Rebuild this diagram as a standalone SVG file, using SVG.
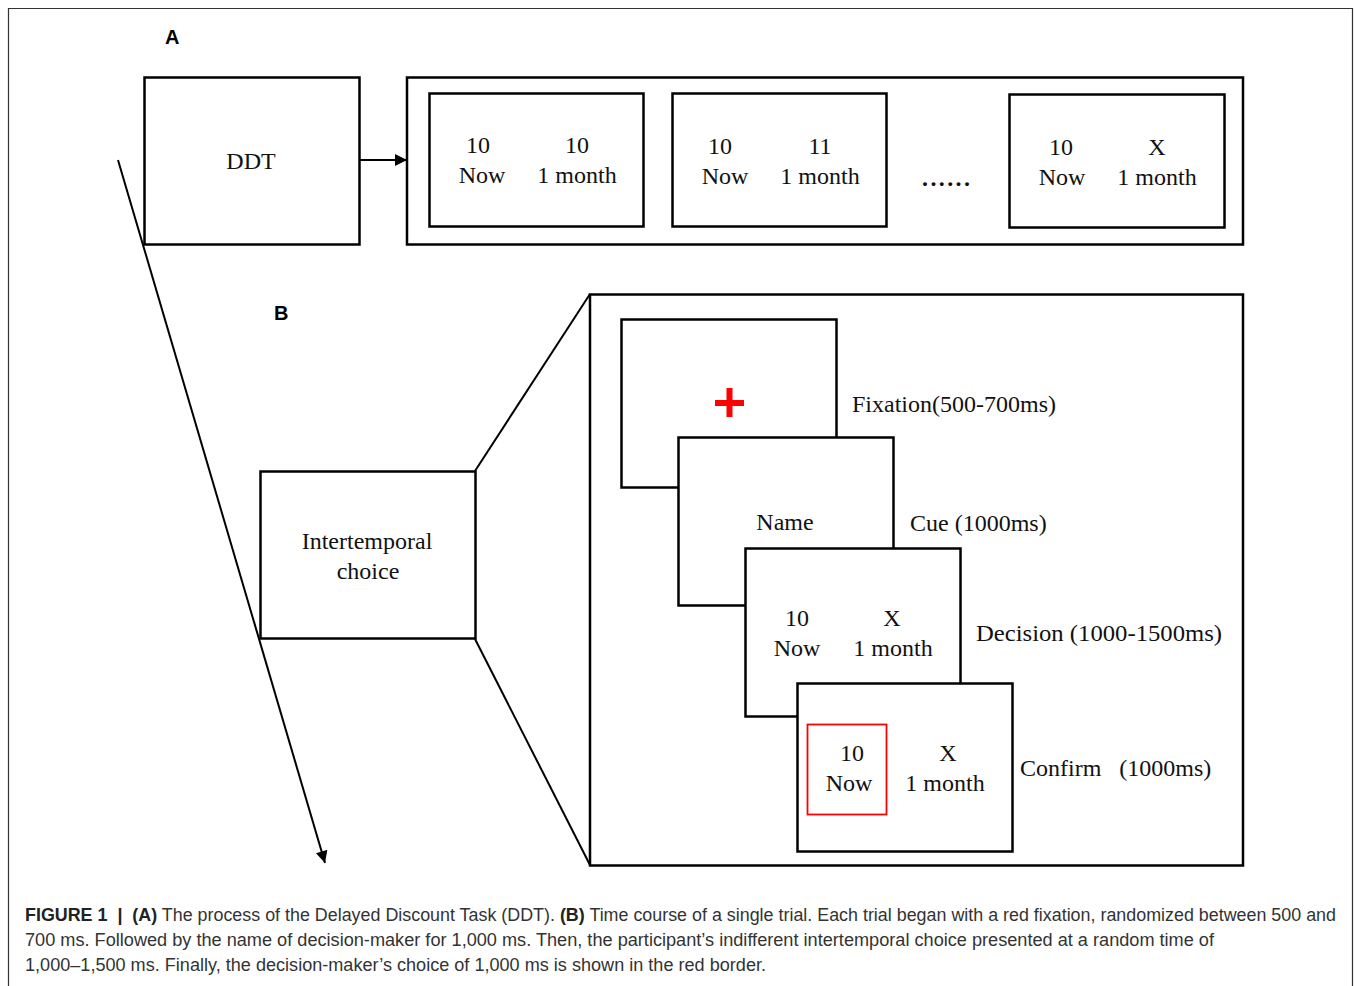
<svg xmlns="http://www.w3.org/2000/svg" width="1354" height="986" viewBox="0 0 1354 986">
<style>
.box{fill:#fff;stroke:#000;stroke-width:2.5}
.ln{fill:none;stroke:#000;stroke-width:2}
.t{font-family:"Liberation Serif","Times New Roman",serif;font-size:24px;fill:#111;text-anchor:middle}
.tl{font-family:"Liberation Serif","Times New Roman",serif;font-size:24px;fill:#111}
.lab{font-family:"Liberation Sans",Arial,sans-serif;font-size:20px;font-weight:bold;fill:#000}
.cap{font-family:"Liberation Sans",Arial,sans-serif;font-size:17.5px;fill:#333}
.capb{font-weight:bold;fill:#222}
</style>
<defs>
<marker id="ah" viewBox="0 0 10 10" refX="10" refY="5" markerWidth="6.5" markerHeight="6" orient="auto" markerUnits="strokeWidth">
<path d="M0,0 L10,5 L0,10 z" fill="#000"/>
</marker>
</defs>
<rect x="0" y="0" width="1354" height="986" fill="#fff"/>
<path d="M8.5,990 V8.5 H1352.5 V990" fill="none" stroke="#333" stroke-width="1.2"/>

<text class="lab" x="165" y="44">A</text>
<text class="lab" x="274" y="320">B</text>

<g id="connectors">
<line class="ln" x1="359" y1="160" x2="407" y2="160" marker-end="url(#ah)"/>
<line class="ln" x1="118" y1="160" x2="325" y2="863" marker-end="url(#ah)"/>
<line class="ln" x1="475" y1="471" x2="590" y2="294"/>
<line class="ln" x1="475" y1="639" x2="590" y2="865"/>
</g>

<g id="ddt">
<rect class="box" x="144.5" y="77.5" width="215" height="167"/>
<text class="t" x="251" y="169">DDT</text>
</g>

<g id="seq">
<rect class="box" x="407" y="77.5" width="836" height="167"/>
</g>
<g id="opt1">
<rect class="box" x="429.5" y="93.5" width="214" height="133"/>
<text class="t" x="478" y="153">10</text>
<text class="t" x="482" y="183">Now</text>
<text class="t" x="577" y="153">10</text>
<text class="t" x="577" y="183">1 month</text>
</g>
<g id="opt2">
<rect class="box" x="672.5" y="93.5" width="214" height="133"/>
<text class="t" x="720" y="154">10</text>
<text class="t" x="725" y="184">Now</text>
<text class="t" x="820" y="154">11</text>
<text class="t" x="820" y="184">1 month</text>
</g>
<text class="tl" x="922" y="186" style="font-weight:bold" textLength="48" lengthAdjust="spacing">......</text>
<g id="opt3">
<rect class="box" x="1009.5" y="94.5" width="215" height="133"/>
<text class="t" x="1061" y="155">10</text>
<text class="t" x="1062" y="185">Now</text>
<text class="t" x="1157" y="155">X</text>
<text class="t" x="1157" y="185">1 month</text>
</g>

<g id="intertemporal">
<rect class="box" x="260.5" y="471.5" width="215" height="167"/>
<text class="t" x="367" y="549">Intertemporal</text>
<text class="t" x="368" y="579">choice</text>
</g>

<g id="trial">
<rect class="box" x="590" y="294.5" width="653" height="571"/>
</g>

<g id="fixation">
<rect class="box" x="621.5" y="319.5" width="215" height="168"/>
<rect x="715" y="400" width="29" height="6" fill="#f00"/>
<rect x="726.5" y="388" width="6" height="29" fill="#f00"/>
<text class="tl" x="852" y="412">Fixation(500-700ms)</text>
</g>

<g id="cue">
<rect class="box" x="678.5" y="437.5" width="215" height="168"/>
<text class="t" x="785" y="530">Name</text>
<text class="tl" x="910" y="531">Cue (1000ms)</text>
</g>

<g id="decision">
<rect class="box" x="745.5" y="548.5" width="215" height="168"/>
<text class="t" x="797" y="626">10</text>
<text class="t" x="797" y="656">Now</text>
<text class="t" x="892" y="626">X</text>
<text class="t" x="893" y="656">1 month</text>
<text class="tl" x="976" y="641" textLength="246" lengthAdjust="spacingAndGlyphs">Decision (1000-1500ms)</text>
</g>

<g id="confirm">
<rect class="box" x="797.5" y="683.5" width="215" height="168"/>
<rect x="807.5" y="724.5" width="79" height="90" fill="none" stroke="#f00" stroke-width="1.8"/>
<text class="t" x="852" y="761">10</text>
<text class="t" x="849" y="791">Now</text>
<text class="t" x="948" y="761">X</text>
<text class="t" x="945" y="791">1 month</text>
<text class="tl" x="1020" y="776" xml:space="preserve">Confirm   (1000ms)</text>
</g>

<text class="cap" x="25" y="921" textLength="1311" lengthAdjust="spacingAndGlyphs" xml:space="preserve"><tspan class="capb">FIGURE 1</tspan>  <tspan class="capb">|</tspan>  <tspan class="capb">(A)</tspan> The process of the Delayed Discount Task (DDT). <tspan class="capb">(B)</tspan> Time course of a single trial. Each trial began with a red fixation, randomized between 500 and</text>
<text class="cap" x="25" y="946" textLength="1189" lengthAdjust="spacingAndGlyphs">700 ms. Followed by the name of decision-maker for 1,000 ms. Then, the participant’s indifferent intertemporal choice presented at a random time of</text>
<text class="cap" x="25" y="971" textLength="741" lengthAdjust="spacingAndGlyphs">1,000–1,500 ms. Finally, the decision-maker’s choice of 1,000 ms is shown in the red border.</text>
</svg>
